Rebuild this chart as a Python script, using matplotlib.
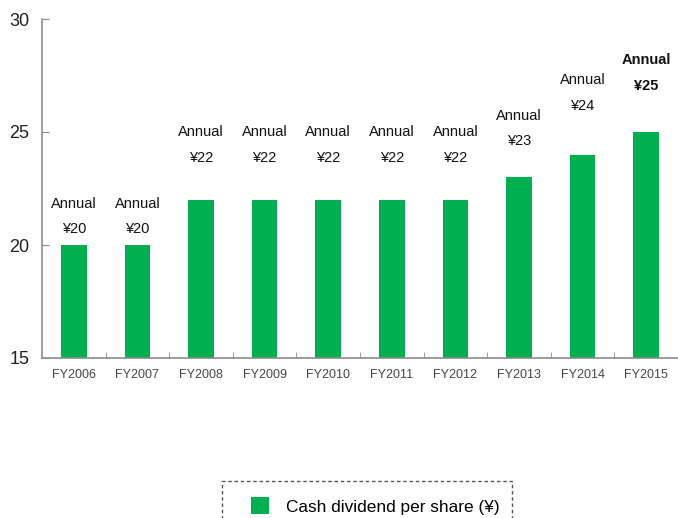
import matplotlib
matplotlib.use("Agg")
import matplotlib.pyplot as plt
from matplotlib.patches import Rectangle

plt.rcParams['font.family'] = ['Liberation Sans', 'DejaVu Sans']

years = ['FY2006', 'FY2007', 'FY2008', 'FY2009', 'FY2010',
         'FY2011', 'FY2012', 'FY2013', 'FY2014', 'FY2015']
dividends = [20, 20, 22, 22, 22, 22, 22, 23, 24, 25]
series_name = 'Cash dividend per share (\u00a5)'

# how far the "¥xx" label sits above each bar (data units)
label_gap = [0.7, 0.7, 1.85, 1.85, 1.85, 1.85, 1.85, 1.6, 2.15, 2.05]
green = '#00B050'

fig = plt.figure(figsize=(6.78, 5.18), dpi=100)
ax = fig.add_axes([42 / 678, 1 - 358 / 518, 1 - 42 / 678, (358 - 19) / 518])

x = list(range(len(years)))
bars = ax.bar(x, dividends, width=0.4, color=green, label=series_name)

for i in range(len(years)):
    weight = 'bold' if i == len(years) - 1 else 'normal'
    y_val = dividends[i] + label_gap[i]
    ax.text(x[i], y_val, '\u00a5' + str(dividends[i]), ha='center', va='center',
            fontsize=10.5, fontweight=weight, color='#111111')
    ax.text(x[i], y_val + 1.13, 'Annual', ha='center', va='center',
            fontsize=10.5, fontweight=weight, color='#111111')

ax.set_ylim(15, 30)
ax.set_xlim(-0.5, len(years) - 0.5)
ax.set_yticks([15, 20, 25, 30])
ax.set_xticks(x)
ax.set_xticklabels(years)
ax.set_xticks([i + 0.5 for i in x[:-1]], minor=True)

for side in ['top', 'right']:
    ax.spines[side].set_visible(False)
for side in ['left', 'bottom']:
    ax.spines[side].set_color('#8c8c8c')
    ax.spines[side].set_linewidth(1.2)

ax.tick_params(axis='y', direction='in', length=5, color='#8c8c8c',
               labelsize=13, labelcolor='#222222', pad=9)
ax.tick_params(axis='x', which='major', length=0, labelsize=9,
               labelcolor='#454545', pad=8)
ax.tick_params(axis='x', which='minor', direction='in', length=4, color='#8c8c8c')

# dashed legend box
fig.patches.append(Rectangle((222 / 678, -0.05), (512 - 222) / 678, 0.05 + 1 - 481 / 518,
                             transform=fig.transFigure, fill=False, edgecolor='#555555',
                             linewidth=1, linestyle=(0, (2.5, 2))))
fig.legend(handles=[bars], labels=[series_name], loc='center left',
           bbox_to_anchor=(235 / 678, 1 - 506 / 518), frameon=False,
           fontsize=12.4, handlelength=1.1, handleheight=1.1, handletextpad=0.95)

fig.savefig('out.png', dpi=100)
